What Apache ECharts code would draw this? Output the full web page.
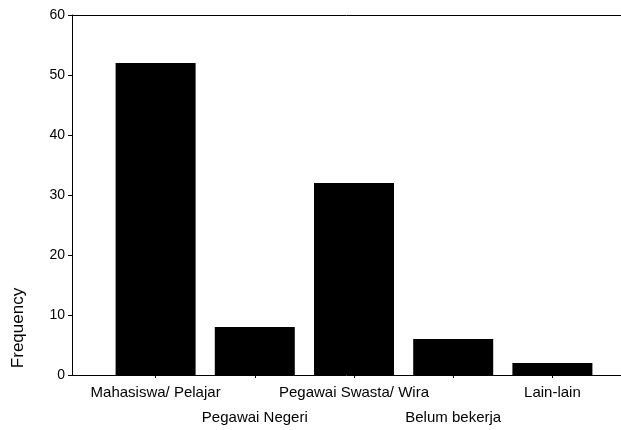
<!DOCTYPE html>
<html>
<head>
<meta charset="utf-8">
<script src="https://cdn.jsdelivr.net/npm/echarts@6/dist/echarts.min.js"></script>
<style>
html,body{margin:0;padding:0;background:#fff;}
#chartDiv{width:621px;height:430px;}
</style>
</head>
<body>
<div id="chartDiv"></div>
<script>
var categories = ['Mahasiswa/ Pelajar', 'Pegawai Negeri', 'Pegawai Swasta/ Wira', 'Belum bekerja', 'Lain-lain'];
var frequency = [52, 8, 32, 6, 2];
var yTicks = [0, 10, 20, 30, 40, 50, 60];

var fontName = 'Liberation Sans, Arial, sans-serif';

function bar() {
	var myChart = echarts.init(document.getElementById('chartDiv'));
	var option = {
		backgroundColor: '#fff',
		animation: false,
		textStyle: { fontFamily: fontName, color: '#000' },
		// grid 0 = frame with y axis, grid 1 = bars
		grid: [
			{ left: 72, right: 0, top: 15, bottom: 55, outerBoundsMode: 'none' },
			{ left: 106, right: 19, top: 15, bottom: 55, outerBoundsMode: 'none' }
		],
		graphic: [{
			type: 'text',
			x: 18,
			y: 328,
			rotation: Math.PI / 2,
			style: {
				text: 'Frequency',
				fill: '#000',
				font: '17px ' + fontName,
				textAlign: 'center',
				textVerticalAlign: 'middle'
			}
		}],
		xAxis: [
			{
				gridIndex: 0, type: 'value', min: 0, max: 1, position: 'bottom',
				axisLine: { show: true, lineStyle: { color: '#000', width: 1 } },
				axisTick: { show: false }, axisLabel: { show: false }, splitLine: { show: false }
			},
			{
				gridIndex: 0, type: 'value', min: 0, max: 1, position: 'top',
				axisLine: { show: true, lineStyle: { color: '#000', width: 1 } },
				axisTick: { show: false }, axisLabel: { show: false }, splitLine: { show: false }
			},
			{
				gridIndex: 1, type: 'category', data: categories,
				axisLine: { show: false },
				axisTick: { show: true, alignWithLabel: true, length: 3, lineStyle: { color: '#000' } },
				axisLabel: {
					interval: 0,
					margin: 5,
					fontSize: 15,
					lineHeight: 25,
					color: '#000',
					fontFamily: fontName,
					formatter: function (value, idx) {
						//交错两行显示
						return idx % 2 == 1 ? '\n' + value : value;
					}
				}
			}
		],
		yAxis: [
			{
				gridIndex: 0, type: 'value', min: yTicks[0], max: yTicks[yTicks.length - 1], interval: 10,
				axisLine: { show: true, lineStyle: { color: '#000', width: 1 } },
				axisTick: { show: true, length: 4, lineStyle: { color: '#000' } },
				axisLabel: { margin: 7, fontSize: 14, color: '#000', fontFamily: fontName },
				splitLine: { show: false }
			},
			{
				gridIndex: 1, type: 'value', min: yTicks[0], max: yTicks[yTicks.length - 1], show: false
			}
		],
		series: [{
			name: 'Frequency',
			type: 'bar',
			xAxisIndex: 2,
			yAxisIndex: 1,
			barWidth: 80,
			itemStyle: { color: '#000' },
			data: frequency
		}]
	};
	myChart.setOption(option);
}

window.onload = bar;
</script>
</body>
</html>
